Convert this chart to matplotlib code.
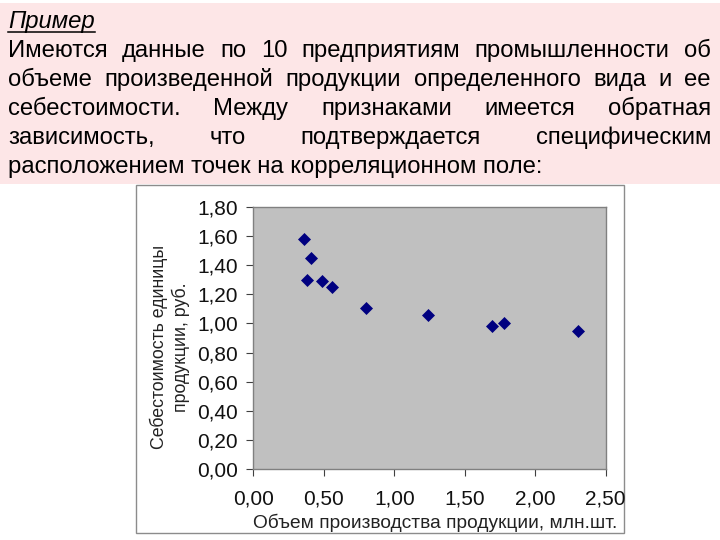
import matplotlib
matplotlib.use("Agg")
import matplotlib.pyplot as plt
from matplotlib.ticker import FuncFormatter, MultipleLocator
from matplotlib.patches import Rectangle
from matplotlib.lines import Line2D

# объем производства, млн.шт. и себестоимость единицы, руб.
obem = [0.36, 0.41, 0.38, 0.49, 0.56, 0.80, 1.24, 1.69, 1.78, 2.30]
sebest = [1.58, 1.45, 1.30, 1.29, 1.25, 1.11, 1.06, 0.98, 1.00, 0.95]

zaglavlje = "Пример"
redovi = [
    "Имеются данные по 10 предприятиям промышленности об",
    "объеме произведенной продукции определенного вида и ее",
    "себестоимости. Между признаками имеется обратная",
    "зависимость, что подтверждается специфическим",
    "расположением точек на корреляционном поле:",
]

plt.rcParams['font.family'] = ['Liberation Sans', 'DejaVu Sans']

W, H = 720, 540
fig = plt.figure(figsize=(7.2, 5.4), dpi=100)
fig.patch.set_facecolor('white')

def fx(px):
    return px / W

def fy(py):
    return 1 - py / H

# rozi okvir s tekstom
fig.patches.append(Rectangle((0, fy(184)), 1, fy(3) - fy(184), transform=fig.transFigure,
                             facecolor='#fde6e7', edgecolor='none', zorder=-3))
# okvir grafikona
fig.patches.append(Rectangle((fx(136), fy(533)), fx(624) - fx(136), fy(185) - fy(533),
                             transform=fig.transFigure, facecolor='white',
                             edgecolor='#8c8c8c', linewidth=1.0, zorder=-2))

fs = 17.2
renderer = fig.canvas.get_renderer()

t = fig.text(fx(8), fy(28), zaglavlje, fontsize=fs, style='italic', va='baseline', ha='left')
bb = t.get_window_extent(renderer)
fig.lines.append(Line2D([fx(bb.x0), fx(bb.x1)], [fy(32), fy(32)], transform=fig.transFigure,
                        color='black', linewidth=1.1))

levo, desno = 8, 711
y0, korak = 57, 29
for i, red in enumerate(redovi):
    y = y0 + i * korak
    if i == len(redovi) - 1:
        fig.text(fx(levo), fy(y), red, fontsize=fs, va='baseline', ha='left')
        continue
    reci = red.split()
    sirine = []
    for r in reci:
        tt = fig.text(0, 0, r, fontsize=fs)
        sirine.append(tt.get_window_extent(renderer).width)
        tt.remove()
    razmak = (desno - levo - sum(sirine)) / (len(reci) - 1)
    x = levo
    for r, s in zip(reci, sirine):
        fig.text(fx(x), fy(y), r, fontsize=fs, va='baseline', ha='left')
        x += s + razmak

ax = fig.add_axes([fx(253.3), fy(468.7), fx(605.7) - fx(253.3), fy(207.3) - fy(468.7)])
ax.set_facecolor('#c0c0c0')
ax.scatter(obem, sebest, marker='D', s=44, color='#000080', zorder=3, linewidths=0)
ax.set_xlim(0, 2.5)
ax.set_ylim(0, 1.8)
ax.xaxis.set_major_locator(MultipleLocator(0.5))
ax.yaxis.set_major_locator(MultipleLocator(0.2))
zarez = FuncFormatter(lambda v, p: f"{v:.2f}".replace('.', ','))
ax.xaxis.set_major_formatter(zarez)
ax.yaxis.set_major_formatter(zarez)
for s in ax.spines.values():
    s.set_color('#808080')
    s.set_linewidth(1.0)
ax.tick_params(axis='both', labelsize=15, colors='#404040', labelcolor='#111111',
               length=5, width=0.8, direction='out')
ax.tick_params(axis='x', pad=10)
ax.tick_params(axis='y', pad=6)
ax.set_xlabel("Объем производства продукции, млн.шт.", fontsize=13.8, color='#222222')
ax.set_ylabel("Себестоимость единицы\nпродукции, руб.", fontsize=12.8,
              color='#222222', linespacing=1.25)
ax.xaxis.set_label_coords(0.517, -0.172)
ax.yaxis.set_label_coords(-0.18, 0.466)

fig.savefig("out.png", dpi=100)
